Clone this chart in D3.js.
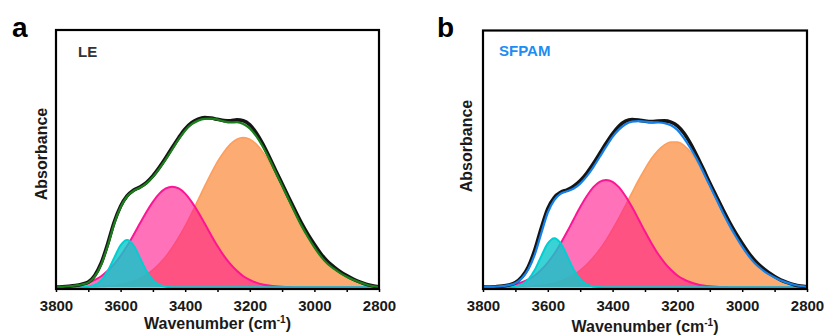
<!DOCTYPE html>
<html>
<head>
<meta charset="utf-8">
<script src="https://cdn.jsdelivr.net/npm/d3@7"></script>
<style>
  html, body { margin: 0; padding: 0; background: #fff; }
  svg { display: block; }
  text { font-family: "Liberation Sans", Arial, sans-serif; font-weight: bold; }
</style>
</head>
<body>
<svg id="chart" width="826" height="336"></svg>
<script>
// ---- data ----
const wavenumbers = [3800,3780,3760,3740,3720,3700,3680,3660,3640,3620,3600,3580,3560,3540,3520,3500,3480,3460,3440,3420,3400,3380,3360,3340,3320,3300,3280,3260,3240,3220,3200,3180,3160,3140,3120,3100,3080,3060,3040,3020,3000,2980,2960,2940,2920,2900,2880,2860,2840,2820,2800];
const minorTicks = [3800,3700,3600,3500,3400,3300,3200,3100,3000,2900,2800];
const tickLabels = [3800,3600,3400,3200,3000,2800];
const panelLetters = ["a", "b"];
const sampleNames = ["LE", "SFPAM"];

// panel a (LE)
const leCyan = [0,0,0,0,0.05,0.25,0.9,2.7,6.3,11.4,16.3,18.3,16.3,11.4,6.3,2.7,0.9,0.25,0.05,0,0,0,0,0,0,0,0,0,0,0,0,0,0,0,0,0,0,0,0,0,0,0,0,0,0,0,0,0,0,0,0];
const lePink = [0.1,0.2,0.37,0.66,1.1,1.8,2.9,4.3,6.4,9.0,12.2,16.0,20.3,24.8,29.2,33.1,36.3,38.3,39.0,38.3,36.3,33.1,29.2,24.8,20.3,16.0,12.2,9.0,6.4,4.3,2.9,1.8,1.1,0.66,0.37,0.2,0.1,0.05,0,0,0,0,0,0,0,0,0,0,0,0,0];
const leOrange = [0,0.01,0.02,0.035,0.06,0.1,0.18,0.29,0.46,0.72,1.1,1.7,2.4,3.5,4.9,6.8,9.1,11.9,15.4,19.4,23.8,28.7,33.9,39.1,44.1,48.7,52.5,55.5,57.4,58.0,57.4,55.5,52.5,48.7,44.1,39.1,33.9,28.7,23.8,19.4,15.4,11.9,9.1,7.3,5.6,4.2,3.0,2.0,1.2,0.6,0.2];
const leFit = [0.1,0.2,0.4,0.7,1.1,1.8,4.2,8.8,16.0,24.5,31.0,35.2,37.4,38.6,40.3,42.8,46.0,49.6,53.5,57.4,60.8,63.2,64.6,65.3,65.4,65.0,64.3,63.9,64.0,63.3,61.6,58.6,54.6,49.8,44.6,39.4,34.1,28.9,23.9,19.5,15.5,12.0,9.2,7.2,5.5,4.1,2.9,1.9,1.1,0.5,0.15];
const leExp = [0.1,0.2,0.4,0.7,1.2,2.0,4.6,9.4,16.8,25.2,31.4,35.4,37.6,38.9,40.6,43.2,46.5,50.2,54.2,58.0,61.4,63.8,65.2,65.8,65.6,65.1,64.6,64.5,64.9,64.6,63.0,59.8,55.6,50.6,45.3,40.1,34.9,29.8,24.9,20.5,16.6,13.0,10.1,7.9,6.0,4.5,3.2,2.1,1.2,0.6,0.2];

// panel b (SFPAM)
const sfCyan = [0,0,0,0,0.07,0.32,1.1,3.1,6.8,12.1,17.0,19.0,17.0,12.1,6.8,3.1,1.1,0.32,0.07,0,0,0,0,0,0,0,0,0,0,0,0,0,0,0,0,0,0,0,0,0,0,0,0,0,0,0,0,0,0,0,0];
const sfPink = [0.06,0.12,0.22,0.40,0.70,1.19,1.94,3.05,4.6,6.8,9.6,13.0,17.1,21.6,26.4,31.1,35.3,38.7,40.9,41.6,40.9,38.7,35.3,31.1,26.4,21.6,17.1,13.0,9.6,6.8,4.6,3.05,1.94,1.19,0.70,0.40,0.22,0.12,0.06,0,0,0,0,0,0,0,0,0,0,0,0];
const sfOrange = [0,0.01,0.02,0.04,0.07,0.12,0.2,0.32,0.5,0.78,1.2,1.7,2.5,3.5,4.9,6.6,8.8,11.5,14.7,18.3,22.5,27.0,31.8,36.7,41.5,45.9,49.9,53.0,55.2,56.3,56.3,55.0,52.5,48.9,44.5,39.5,34.3,29.0,24.0,19.4,15.3,11.8,8.9,7.0,5.3,3.9,2.8,1.9,1.2,0.6,0.25];
const sfFit = [0.06,0.13,0.24,0.45,0.85,1.6,3.5,7.0,12.8,21.0,29.0,33.8,36.3,37.2,38.3,40.2,43.0,46.5,50.5,54.5,58.3,61.2,63.2,64.2,64.4,64.2,64.0,63.9,63.6,62.8,61.0,57.8,54.0,49.6,44.6,39.4,34.2,29.0,24.2,19.8,15.8,12.2,9.2,7.0,5.2,3.8,2.6,1.7,1.0,0.5,0.2];
const sfExp = [0.06,0.13,0.24,0.45,0.9,1.8,4.0,8.0,14.5,23.0,30.5,34.8,36.8,37.8,39.2,41.3,44.2,47.8,51.8,55.8,59.5,62.5,64.4,65.0,64.8,64.4,64.2,64.4,64.5,64.0,62.6,59.8,55.8,51.0,45.8,40.4,35.3,30.2,25.4,21.0,17.0,13.3,10.2,7.8,5.8,4.2,2.8,1.8,1.0,0.5,0.2];

// ---- layout ----
const panels = [
  { letter: panelLetters[0], name: sampleNames[0], nameColor: "#333333", fitColor: "#1a7f1a",
    cyan: leCyan, pink: lePink, orange: leOrange, fit: leFit, exp: leExp,
    left: 56, right: 379, top: 30, bottom: 289, base: 287.3,
    letterX: 12, letterY: 37, nameX: 78, nameY: 57, titleY: 329, ylabX: 47, ylabY: 154 },
  { letter: panelLetters[1], name: sampleNames[1], nameColor: "#1E8CF5", fitColor: "#1580e8",
    cyan: sfCyan, pink: sfPink, orange: sfOrange, fit: sfFit, exp: sfExp,
    left: 483, right: 807, top: 30.5, bottom: 289, base: 287.3,
    letterX: 437, letterY: 37, nameX: 499, nameY: 56, titleY: 332, ylabX: 472, ylabY: 146 }
];

const svg = d3.select("#chart");

panels.forEach((p, i) => {
  const x = d3.scaleLinear().domain([3800, 2800]).range([p.left, p.right]);
  const y = d3.scaleLinear().domain([0, 100]).range([p.base, p.base - 258]);
  const g = svg.append("g");

  const clipId = "clip" + i;
  svg.append("clipPath").attr("id", clipId).append("rect")
    .attr("x", p.left).attr("y", p.top).attr("width", p.right - p.left).attr("height", p.bottom - p.top);

  const plot = g.append("g").attr("clip-path", `url(#${clipId})`);
  const pts = arr => wavenumbers.map((w, k) => [w, arr[k]]);
  const area = d3.area().x(d => x(d[0])).y0(y(0)).y1(d => y(d[1])).curve(d3.curveMonotoneX);
  const line = d3.line().x(d => x(d[0])).y(d => y(d[1])).curve(d3.curveMonotoneX);

  // orange component
  plot.append("path").datum(pts(p.orange)).attr("d", area)
    .attr("fill", "#FCA66A").attr("fill-opacity", 0.95);
  plot.append("path").datum(pts(p.orange)).attr("d", line)
    .attr("fill", "none").attr("stroke", "#FF9D5C").attr("stroke-width", 1.6);
  // pink component
  plot.append("path").datum(pts(p.pink)).attr("d", area)
    .attr("fill", "#FF1C8E").attr("fill-opacity", 0.62);
  plot.append("path").datum(pts(p.pink)).attr("d", line)
    .attr("fill", "none").attr("stroke", "#FF1493").attr("stroke-width", 2);
  // cyan component
  plot.append("path").datum(pts(p.cyan)).attr("d", area)
    .attr("fill", "#10C8CC").attr("fill-opacity", 0.82);
  plot.append("path").datum(pts(p.cyan)).attr("d", line)
    .attr("fill", "none").attr("stroke", "#00CED1").attr("stroke-width", 2);
  // experimental spectrum
  plot.append("path").datum(pts(p.exp)).attr("d", line)
    .attr("fill", "none").attr("stroke", "#151515").attr("stroke-width", 3.6)
    .attr("stroke-linejoin", "round");
  // fitted envelope
  plot.append("path").datum(pts(p.fit)).attr("d", line)
    .attr("fill", "none").attr("stroke", p.fitColor).attr("stroke-width", 2.2);

  // frame
  g.append("rect").attr("x", p.left).attr("y", p.top)
    .attr("width", p.right - p.left).attr("height", p.bottom - p.top)
    .attr("fill", "none").attr("stroke", "#000").attr("stroke-width", 2.2);

  // x axis
  const axis = d3.axisBottom(x).tickValues(minorTicks).tickSize(3).tickSizeOuter(0)
    .tickFormat(d => tickLabels.includes(d) ? String(d) : "");
  const ax = g.append("g").attr("transform", `translate(0,${p.bottom})`).call(axis);
  ax.select(".domain").remove();
  ax.selectAll(".tick line").attr("stroke", "#000").attr("stroke-width", 1.5);
  ax.selectAll(".tick text").attr("y", 311 - p.bottom).attr("dy", "0")
    .attr("font-size", 15).attr("font-family", "Liberation Sans, Arial, sans-serif")
    .attr("font-weight", "bold").attr("fill", "#1a1a1a");

  // axis title
  const title = g.append("text").attr("x", (p.left + p.right) / 2).attr("y", p.titleY)
    .attr("text-anchor", "middle").attr("font-size", 16).attr("fill", "#1a1a1a");
  title.append("tspan").text("Wavenumber (cm");
  title.append("tspan").attr("font-size", 10).attr("dy", -6).text("-1");
  title.append("tspan").attr("dy", 6).text(")");

  // y title
  g.append("text").attr("transform", `translate(${p.ylabX},${p.ylabY}) rotate(-90)`)
    .attr("text-anchor", "middle").attr("font-size", 16).attr("fill", "#1a1a1a").text("Absorbance");

  // panel letter & sample name
  g.append("text").attr("x", p.letterX).attr("y", p.letterY).attr("font-size", 28)
    .attr("fill", "#000").text(p.letter);
  g.append("text").attr("x", p.nameX).attr("y", p.nameY).attr("font-size", 15)
    .attr("fill", p.nameColor).text(p.name);
});
</script>
</body>
</html>
